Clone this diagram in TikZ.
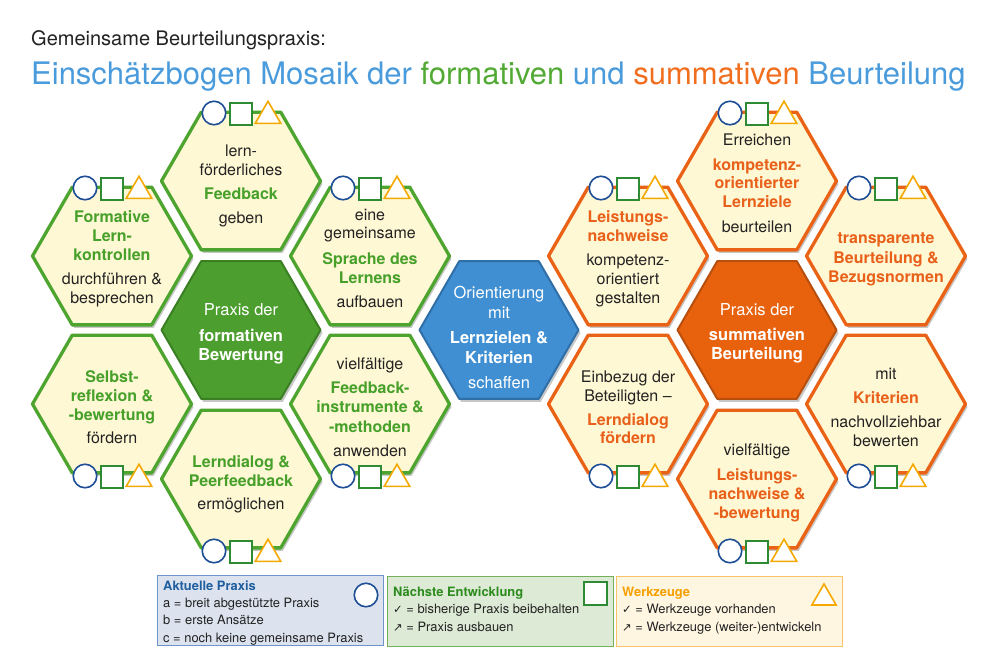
\documentclass[tikz,border=0pt]{standalone}
\usepackage{fontspec}
\setmainfont{TeX Gyre Heros}
\newfontfamily\symfont{DejaVu Sans}
\usetikzlibrary{shapes.geometric,shadows}
\definecolor{tblue}{HTML}{4A9BDC}
\definecolor{tgreen}{HTML}{52AA34}
\definecolor{torange}{HTML}{F06E1E}
\definecolor{hgreen}{HTML}{4DA52F}
\definecolor{hgtxt}{HTML}{46A02A}
\definecolor{horange}{HTML}{EA6216}
\definecolor{hotxt}{HTML}{E8601A}
\definecolor{cream}{HTML}{FFF8D4}
\definecolor{cgreen}{HTML}{4C9F2F}
\definecolor{cgreenD}{HTML}{3B7F25}
\definecolor{cblue}{HTML}{3F8FD2}
\definecolor{cblueD}{HTML}{2F6EA6}
\definecolor{corange}{HTML}{E8620E}
\definecolor{corangeD}{HTML}{B84E0C}
\definecolor{symblue}{HTML}{1F4F96}
\definecolor{symgreen}{HTML}{2F8A34}
\definecolor{symyellow}{HTML}{F5A900}
\definecolor{txtgrey}{HTML}{222222}
\definecolor{bgA}{HTML}{DCE2EE}\definecolor{bdA}{HTML}{6E95C9}\definecolor{hdA}{HTML}{1F5FA0}
\definecolor{bgB}{HTML}{DDEAD6}\definecolor{bdB}{HTML}{74B05A}\definecolor{hdB}{HTML}{2E8B1E}
\definecolor{bgC}{HTML}{FFF6E2}\definecolor{bdC}{HTML}{F9C468}\definecolor{hdC}{HTML}{F5A000}
\newcommand\grb[1]{\textbf{\color{hgtxt}#1}}
\newcommand\orb[1]{\textbf{\color{hotxt}#1}}
\newcommand\wb[1]{\textbf{#1}}
\newcommand\chk{{\symfont\fontsize{11.5}{12}\selectfont ✓}}
\newcommand\arr{{\symfont\fontsize{11.5}{12}\selectfont ↗}}
\tikzset{
  hexbase/.style={regular polygon, regular polygon sides=6, minimum size=159pt,
    inner sep=0pt, line width=3.3pt, line join=round,
    drop shadow={shadow xshift=2pt, shadow yshift=-3pt, opacity=.22, fill=black}},
  ghex/.style={hexbase, draw=hgreen, fill=cream},
  ohex/.style={hexbase, draw=horange, fill=cream},
  cghex/.style={hexbase, line width=2pt, draw=cgreenD, fill=cgreen},
  cbhex/.style={hexbase, line width=2pt, draw=cblueD, fill=cblue},
  cohex/.style={hexbase, line width=2pt, draw=corangeD, fill=corange},
  htxt/.style={align=center, anchor=base, inner sep=0pt, text=txtgrey,
    font=\fontsize{16}{19}\selectfont},
  ctxt/.style={htxt, text=white, font=\fontsize{16.5}{19}\selectfont},
  symc/.style={circle, draw=symblue, fill=white, line width=1.6pt, minimum size=23.5pt, inner sep=0pt},
  syms/.style={rectangle, draw=symgreen, fill=white, line width=1.6pt, minimum size=21.5pt, inner sep=0pt},
  symt/.style={regular polygon, regular polygon sides=3, draw=symyellow, fill=white,
    line width=1.6pt, minimum size=29.5pt, inner sep=0pt, line join=miter},
  lbox/.style={rectangle, anchor=north west, line width=1.2pt, inner sep=0pt,
    minimum width=226pt, minimum height=70pt},
  ltxt/.style={anchor=base west, align=left, inner sep=0pt, text=txtgrey,
    font=\fontsize{12.9}{17.2}\selectfont},
}
\newcommand\hexsyms[3]{%
  \node[symc] (#1c) at (#2-27,#3+2) {};
  \node[syms] (#1s) at (#2,#3+3) {};
  \node[symt] (#1t) at (#2+27,#3+5) {};
}
\begin{document}
\begin{tikzpicture}[x=1pt,y=-1pt]
\useasboundingbox (0,0) rectangle (1000,656);
\fill[white] (0,0) rectangle (1000,656);

% title
\node[anchor=base west, inner sep=0pt, text=txtgrey, font=\fontsize{20}{24}\selectfont] (title1) at (31,45)
  {Gemeinsame Beurteilungspraxis:};
\node[anchor=base west, inner sep=0pt, font=\fontsize{31}{36}\selectfont] (title2) at (31,84)
  {\color{tblue}Einschätzbogen Mosaik der \color{tgreen}formativen \color{tblue}und \color{torange}summativen \color{tblue}Beurteilung};

% left cluster
\node[ghex] (LUL) at (112,256) {};
\node[ghex] (LT)  at (241,181) {};
\node[ghex] (LUR) at (370,256) {};
\node[cghex] (LC) at (241,330) {};
\node[ghex] (LLL) at (112,404) {};
\node[ghex] (LB)  at (241,479) {};
\node[ghex] (LLR) at (370,404) {};
% center
\node[cbhex] (MC) at (499,330) {};
% right cluster
\node[ohex] (RUL) at (628,256) {};
\node[ohex] (RT)  at (757,181) {};
\node[ohex] (RUR) at (886,256) {};
\node[cohex] (RC) at (757,330) {};
\node[ohex] (RLL) at (628,404) {};
\node[ohex] (RB)  at (757,479) {};
\node[ohex] (RLR) at (886,404) {};

% texts left (anchor = baseline of last line)
\node[htxt] (tLUL) at (112,303) {\grb{Formative}\\\grb{Lern-}\\\grb{kontrollen}\\[5pt]durchführen \&\\besprechen};
\node[htxt] (tLT) at (241,223) {lern-\\förderliches\\[5pt]\grb{Feedback}\\[5pt]geben};
\node[htxt] (tLUR) at (370,307) {eine\\[-1pt]gemeinsame\\[7pt]\grb{Sprache des}\\\grb{Lernens}\\[5pt]aufbauen};
\node[ctxt] (tLC) at (241,360) {Praxis der\\[7pt]\wb{formativen}\\\wb{Bewertung}};
\node[htxt] (tLLL) at (112,443) {\grb{Selbst-}\\\grb{reflexion \&}\\\grb{-bewertung}\\[4pt]fördern};
\node[htxt] (tLB) at (241,509) {\grb{Lerndialog \&}\\\grb{Peerfeedback}\\[4pt]ermöglichen};
\node[htxt] (tLLR) at (370,456) {vielfältige\\[5pt]\grb{Feedback-}\\\grb{instrumente \&}\\[1pt]\grb{-methoden}\\[5pt]anwenden};
% text center
\node[ctxt] (tMC) at (499,388) {Orientierung\\[1pt]mit\\[6pt]\wb{Lernzielen \&}\\[1pt]\wb{Kriterien}\\[6pt]schaffen};
% texts right
\node[htxt] (tRUL) at (628,303) {\orb{Leistungs-}\\\orb{nachweise}\\[5pt]kompetenz-\\orientiert\\gestalten};
\node[htxt] (tRT) at (757,232) {Erreichen\\[6pt]\orb{kompetenz-}\\[-1pt]\orb{orientierter}\\\orb{Lernziele}\\[6pt]beurteilen};
\node[htxt] (tRUR) at (886,282) {\orb{transparente}\\[1pt]\orb{Beurteilung \&}\\\orb{Bezugsnormen}};
\node[ctxt] (tRC) at (757,359) {Praxis der\\[6pt]\wb{summativen}\\\wb{Beurteilung}};
\node[htxt] (tRLL) at (628,443) {Einbezug der\\Beteiligten --\\[5pt]\orb{Lerndialog}\\[-1pt]\orb{fördern}};
\node[htxt] (tRB) at (757,518) {vielfältige\\[6pt]\orb{Leistungs-}\\\orb{nachweise \&}\\\orb{-bewertung}};
\node[htxt] (tRLR) at (886,446) {mit\\[5pt]\orb{Kriterien}\\[5pt]nachvollziehbar\\bewerten};

% symbols
\hexsyms{sA}{112}{186}
\hexsyms{sB}{241}{111}
\hexsyms{sC}{370}{186}
\hexsyms{sD}{112}{474}
\hexsyms{sE}{241}{549}
\hexsyms{sF}{370}{474}
\hexsyms{sG}{628}{186}
\hexsyms{sH}{757}{111}
\hexsyms{sI}{886}{186}
\hexsyms{sJ}{628}{474}
\hexsyms{sK}{757}{549}
\hexsyms{sL}{886}{474}

% legend
\node[lbox, draw=bdA, fill=bgA] (legA) at (157,575) {};
\node[lbox, draw=bdB, fill=bgB] (legB) at (387,576) {};
\node[lbox, draw=bdC, fill=bgC] (legC) at (616,576) {};
\node[ltxt] (legAt) at (163,642) {\textbf{\color{hdA}Aktuelle Praxis}\\a = breit abgestützte Praxis\\b = erste Ansätze\\c = noch keine gemeinsame Praxis};
\node[ltxt] (legBt) at (393,631) {\textbf{\color{hdB}Nächste Entwicklung}\\\chk{} = bisherige Praxis beibehalten\\\arr{} = Praxis ausbauen};
\node[ltxt] (legCt) at (622,631) {\textbf{\color{hdC}Werkzeuge}\\\chk{} = Werkzeuge vorhanden\\\arr{} = Werkzeuge (weiter-)entwickeln};
\node[symc] (legAs) at (366,595) {};
\node[syms, minimum size=23pt] (legBs) at (595.5,593.5) {};
\node[symt, minimum size=28pt] (legCs) at (824,598) {};
\end{tikzpicture}
\end{document}
